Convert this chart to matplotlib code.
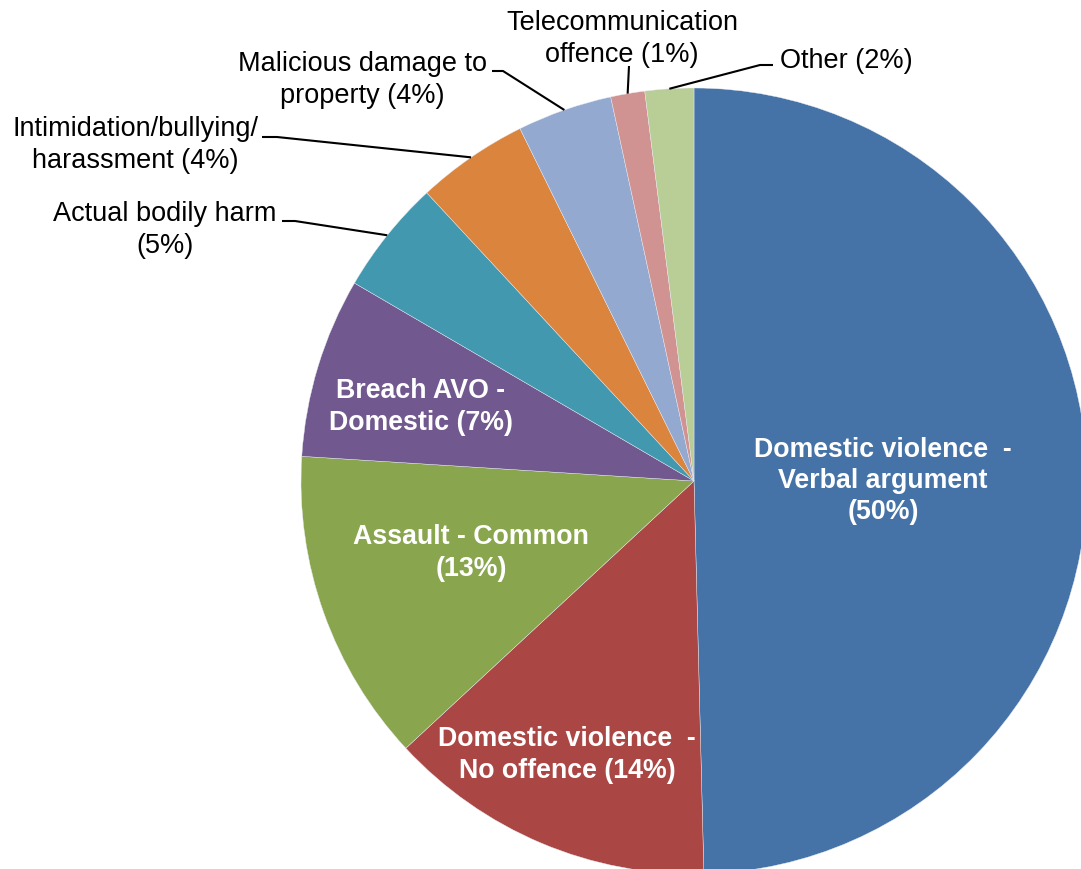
import matplotlib.pyplot as plt
import numpy as np

plt.rcParams['font.family'] = ['Liberation Sans', 'DejaVu Sans']

# slice shares (clockwise from 12 o'clock)
shares = [49.6, 13.5, 12.9, 7.4, 4.7, 4.6, 3.9, 1.4, 2.0]
labels = ['Domestic violence  -\nVerbal argument\n(50%)',
          'Domestic violence  -\nNo offence (14%)',
          'Assault - Common\n(13%)',
          'Breach AVO -\nDomestic (7%)',
          'Actual bodily harm\n(5%)',
          'Intimidation/bullying/\nharassment (4%)',
          'Malicious damage to\nproperty (4%)',
          'Telecommunication\noffence (1%)',
          'Other (2%)']
colors = ['#4572A7', '#AA4643', '#89A54E', '#71588F', '#4198AF',
          '#DB843D', '#93A9CF', '#D19392', '#B9CD96']
inside = [True, True, True, True, False, False, False, False, False]

# label centres in pixels
label_px = [(883, 481), (567, 755), (471, 553), (421, 407), (165, 230),
            (135, 145), (362, 80), (622, 39), (846, 61)]
# leader line: start point, elbow point (pixels)
leader_px = [None, None, None, None,
             ((282, 222), (295, 222)),
             ((262, 138), (277, 138)),
             ((492, 72), (503, 72)),
             ((629, 67), (629, 67)),
             ((773, 66), (760, 66))]

W, H = 1081, 870
CX, CY, R = 694, 482, 393


def to_data(x, y):
    return (x - CX) / R, (CY - y) / R


fig = plt.figure(figsize=(W / 100, H / 100), dpi=100)
ax = fig.add_axes([0, 0, 1, 1])

wedges, _ = ax.pie(shares, colors=colors, startangle=90, counterclock=False,
                   radius=1, wedgeprops=dict(edgecolor='#e8ecf2', linewidth=0.3))

for w, txt, ins, pos, lead in zip(wedges, labels, inside, label_px, leader_px):
    x, y = to_data(*pos)
    if ins:
        ax.text(x, y, txt, ha='center', va='center', color='white',
                fontsize=19.3, fontweight='bold', linespacing=1.27)
    else:
        ax.text(x, y, txt, ha='center', va='center', color='black',
                fontsize=19.5, linespacing=1.27)
        mid = np.deg2rad((w.theta1 + w.theta2) / 2)
        rim = (np.cos(mid), np.sin(mid))
        p0 = to_data(*lead[0])
        p1 = to_data(*lead[1])
        ax.plot([p0[0], p1[0], rim[0]], [p0[1], p1[1], rim[1]],
                color='black', lw=1.5, solid_capstyle='butt')

ax.set_xlim(to_data(0, 0)[0], to_data(W, 0)[0])
ax.set_ylim(to_data(0, H)[1], to_data(0, 0)[1])
ax.set_aspect('auto')
ax.axis('off')

fig.savefig('out.png', dpi=100)
